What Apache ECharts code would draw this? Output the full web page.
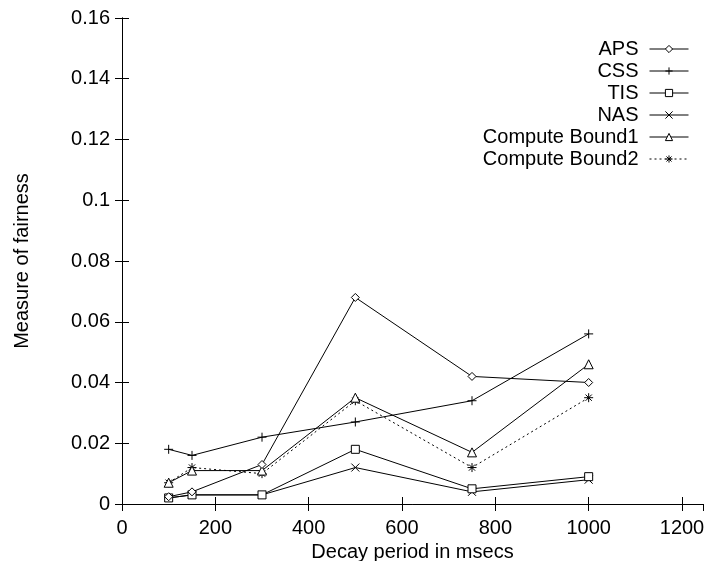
<!DOCTYPE html>
<html>
<head>
<meta charset="utf-8">
<script src="https://cdn.jsdelivr.net/npm/echarts@6/dist/echarts.min.js"></script>
<style>html,body{margin:0;padding:0;background:#fff;}#c{width:709px;height:561px;}</style>
</head>
<body>
<div id="c"></div>
<script>
const xValues = [100, 150, 300, 500, 750, 1000];
const seriesNames = ['APS', 'CSS', 'TIS', 'NAS', 'Compute Bound1', 'Compute Bound2'];
const aps = [0.0024, 0.004, 0.013, 0.068, 0.042, 0.040];
const css = [0.018, 0.016, 0.022, 0.027, 0.034, 0.056];
const tis = [0.002, 0.003, 0.003, 0.018, 0.005, 0.009];
const nas = [0.002, 0.003, 0.003, 0.012, 0.004, 0.008];
const cb1 = [0.007, 0.011, 0.011, 0.035, 0.017, 0.046];
const cb2 = [0.007, 0.012, 0.010, 0.034, 0.012, 0.035];
const xTickLabels = ['0', '200', '400', '600', '800', '1000', '1200'];
const yTickLabels = ['0', '0.02', '0.04', '0.06', '0.08', '0.1', '0.12', '0.14', '0.16'];

const FONT = 'Liberation Sans';
const symbols = [
  'diamond',
  'path://M0,5L10,5M5,0L5,10',
  'rect',
  'path://M0,0L10,10M0,10L10,0',
  'triangle',
  'path://M0,5L10,5M5,0L5,10M1.5,1.5L8.5,8.5M1.5,8.5L8.5,1.5'
];
const sizes = [8, 9, 8, 8, 9, 9];
const dataSets = [aps, css, tis, nas, cb1, cb2];

const series = seriesNames.map((name, i) => ({
  name: name,
  type: 'line',
  data: xValues.map((x, j) => [x, dataSets[i][j]]),
  symbol: symbols[i],
  symbolSize: sizes[i],
  showAllSymbol: true,
  lineStyle: { color: '#000', width: 1, type: i === 5 ? [2, 3] : 'solid' },
  itemStyle: { color: '#fff', borderColor: '#000', borderWidth: 1 },
  emphasis: { disabled: true },
  animation: false,
  z: 10 - i
}));

const tickStyle = { show: true, inside: true, length: 7, lineStyle: { color: '#000', width: 1 } };
const lineStyle = { show: true, lineStyle: { color: '#000', width: 1 } };
const labelStyle = { color: '#000', fontFamily: FONT, fontSize: 20 };

const chart = echarts.init(document.getElementById('c'), null, { renderer: 'canvas' });
chart.setOption({
  backgroundColor: '#fff',
  animation: false,
  grid: { left: 122, right: 6, top: 18, bottom: 57, containLabel: false, outerBoundsMode: 'none' },
  legend: {
    orient: 'vertical',
    align: 'right',
    right: 15,
    top: 33,
    itemWidth: 39,
    itemHeight: 9,
    itemGap: 0,
    selectedMode: false,
    data: seriesNames,
    lineStyle: { width: 1 },
    itemStyle: { borderWidth: 1 },
    textStyle: { color: '#000', fontFamily: FONT, fontSize: 20, lineHeight: 22, padding: [0, 6, 0, 0] }
  },
  xAxis: [{
    type: 'value', min: 0, max: 1245, interval: 200, position: 'bottom',
    name: 'Decay period in msecs', nameLocation: 'middle', nameGap: 27,
    nameTextStyle: labelStyle,
    axisLine: lineStyle, axisTick: tickStyle, splitLine: { show: false },
    axisLabel: Object.assign({ margin: 14, showMaxLabel: false,
      formatter: v => xTickLabels.find(t => Number(t) === v) || '' }, labelStyle)
  }, {
    type: 'value', min: 0, max: 1245, interval: 200, position: 'top',
    axisLine: lineStyle, axisTick: tickStyle, splitLine: { show: false },
    axisLabel: { show: false }
  }],
  yAxis: [{
    type: 'value', min: 0, max: 0.16, interval: 0.02, position: 'left',
    name: 'Measure of fairness', nameLocation: 'middle', nameGap: 90, nameRotate: 90,
    nameTextStyle: labelStyle,
    axisLine: lineStyle, axisTick: tickStyle, splitLine: { show: false },
    axisLabel: Object.assign({ margin: 12,
      formatter: v => yTickLabels.find(t => Math.abs(Number(t) - v) < 1e-9) || '' }, labelStyle)
  }, {
    type: 'value', min: 0, max: 0.16, interval: 0.02, position: 'right',
    axisLine: lineStyle, axisTick: tickStyle, splitLine: { show: false },
    axisLabel: { show: false }
  }],
  series: series
});
</script>
</body>
</html>
